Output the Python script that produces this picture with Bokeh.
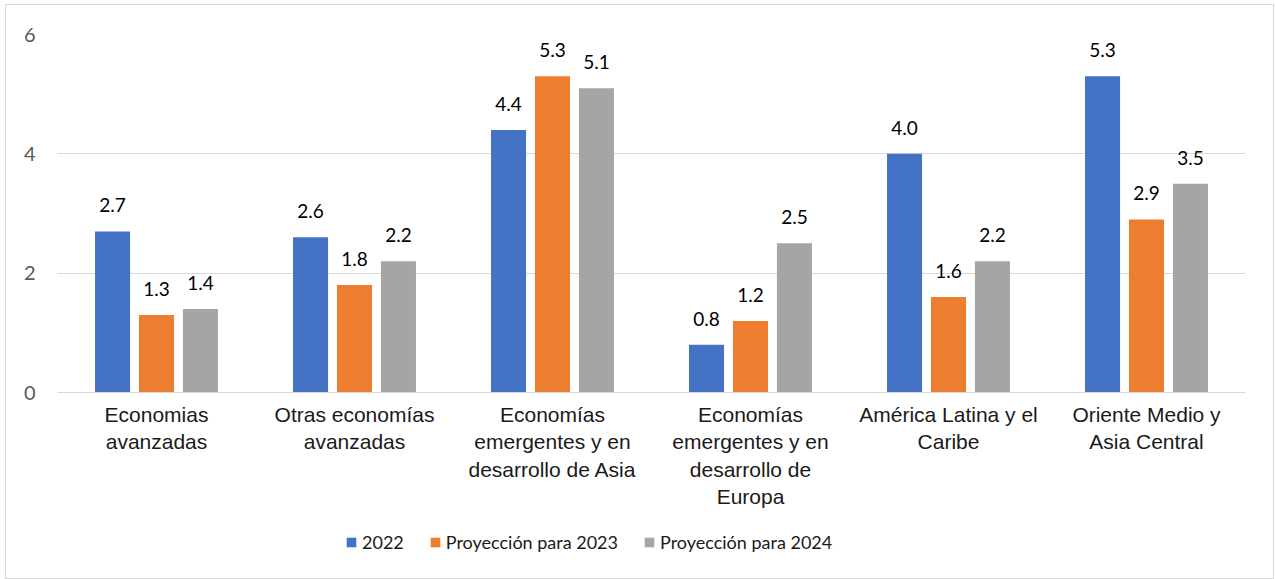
from bokeh.plotting import figure
from bokeh.layouts import column
from bokeh.models import (ColumnDataSource, FactorRange, Range1d, FixedTicker,
                          Legend, LegendItem)
from bokeh.transform import dodge
from bokeh.core.properties import value
from bokeh.embed import file_html
from bokeh.resources import INLINE

# ---- data ----
categories = [
    "Economias\navanzadas",
    "Otras economías\navanzadas",
    "Economías\nemergentes y en\ndesarrollo de Asia",
    "Economías\nemergentes y en\ndesarrollo de\nEuropa",
    "América Latina y el\nCaribe",
    "Oriente Medio y\nAsia Central",
]
series_names = ["2022", "Proyección para 2023", "Proyección para 2024"]
values_2022 = [2.7, 2.6, 4.4, 0.8, 4.0, 5.3]
values_2023 = [1.3, 1.8, 5.3, 1.2, 1.6, 2.9]
values_2024 = [1.4, 2.2, 5.1, 2.5, 2.2, 3.5]
y_ticks = [0, 2, 4, 6]

colors = ["#4472C4", "#ED7D31", "#A5A5A5"]
offsets = [-0.222, 0.0, 0.222]
bar_width = 0.177
calibri_like = "Lato"

p = figure(
    x_range=FactorRange(factors=categories),
    y_range=Range1d(0, 6),
    frame_width=1188, frame_height=358,
    min_border_left=51, min_border_right=28,
    min_border_top=29, min_border_bottom=125,
    toolbar_location=None, output_backend="svg",
)
p.outline_line_color = None
p.background_fill_color = "white"
p.border_fill_color = "white"

sources = []
for name, vals, col, off in zip(series_names, [values_2022, values_2023, values_2024], colors, offsets):
    src = ColumnDataSource(dict(cat=categories, v=vals, lbl=[f"{v:.1f}" for v in vals]))
    sources.append(src)
    p.vbar(x=dodge("cat", off, range=p.x_range), top="v", width=bar_width,
           source=src, fill_color=col, line_color=None)
    p.text(x=dodge("cat", off, range=p.x_range), y="v", text="lbl", source=src,
           text_align="center", text_baseline="alphabetic", y_offset=-26,
           text_font=value(calibri_like), text_font_size="19px", text_color="#000000")

# axes
p.xgrid.grid_line_color = None
p.ygrid.ticker = FixedTicker(ticks=y_ticks)
p.ygrid.grid_line_color = "#d9d9d9"
p.ygrid.grid_line_width = 1

p.yaxis.ticker = FixedTicker(ticks=y_ticks)
p.yaxis.axis_line_color = None
p.yaxis.major_tick_line_color = None
p.yaxis.minor_tick_line_color = None
p.yaxis.major_label_text_color = "#595959"
p.yaxis.major_label_text_font = calibri_like
p.yaxis.major_label_text_font_size = "20px"
p.yaxis.major_label_standoff = 16

p.xaxis.axis_line_color = "#d9d9d9"
p.xaxis.major_tick_line_color = None
p.xaxis.minor_tick_line_color = None
p.xaxis.major_label_text_font = "Liberation Sans"
p.xaxis.major_label_text_font_size = "21px"
p.xaxis.major_label_text_color = "#1a1a1a"
p.xaxis.major_label_standoff = 4
p.xaxis.major_label_orientation = "horizontal"

# ---- legend strip (separate figure so the legend can sit freely below the axis) ----
lg = figure(width=1267, height=61,
            min_border_left=0, min_border_right=0, min_border_top=0, min_border_bottom=0,
            x_range=FactorRange(factors=categories), y_range=Range1d(-100, -99),
            x_axis_location=None, y_axis_location=None,
            toolbar_location=None, output_backend="svg")
lg.outline_line_color = None
lg.grid.visible = False
lg.background_fill_color = "white"
lg.border_fill_color = "white"
leg_renderers = []
for src, col in zip(sources, colors):
    # legend-only renderers: zero-width bars outside the strip's y range (nothing visible)
    leg_renderers.append(lg.vbar(x="cat", top="v", width=0, source=src,
                                 fill_color=col, line_color=None))

legend = Legend(
    items=[LegendItem(label=n, renderers=[r]) for n, r in zip(series_names, leg_renderers)],
    orientation="horizontal", location=(288, 25),
    label_text_font=calibri_like, label_text_font_size="18px", label_text_color="#1a1a1a",
    glyph_width=12, glyph_height=12, label_standoff=5, spacing=25,
    padding=0, margin=0, border_line_color=None, background_fill_alpha=0,
)
lg.add_layout(legend, "center")

layout = column(p, lg, spacing=0)
layout.styles = {"border": "1px solid #d9d9d9", "margin-left": "5px", "margin-top": "4px"}

open("out.html", "w").write(file_html(layout, INLINE))
